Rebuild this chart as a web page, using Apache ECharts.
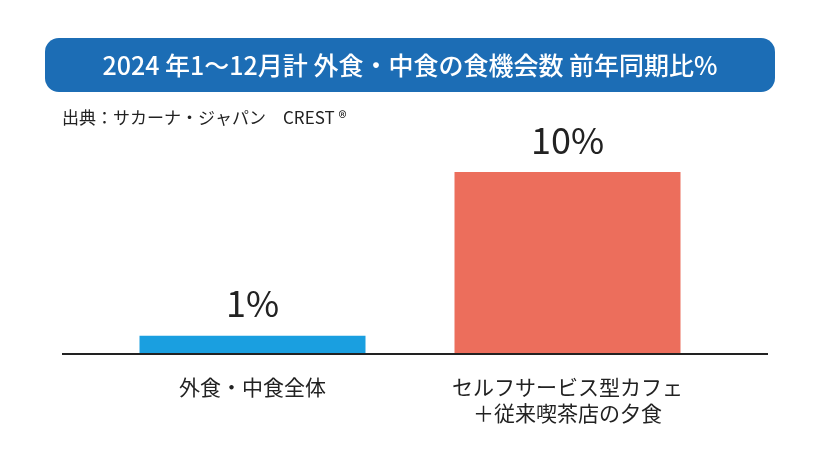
<!DOCTYPE html>
<html><head><meta charset="utf-8">
<script src="https://cdn.jsdelivr.net/npm/echarts@6/dist/echarts.min.js"></script>
<style>html,body{margin:0;padding:0;background:#fff}#c{width:820px;height:460px}</style>
</head><body><div id="c"></div>
<script>
const categories = ['外食・中食全体', 'セルフサービス型カフェ\n＋従来喫茶店の夕食'];
const values = [1, 10];
const valueLabels = ['1%', '10%'];
const colors = ['#1a9fe0', '#ec6e5c'];
const titleText = '2024 年1～12月計 外食・中食の食機会数 前年同期比%';
const sourceText = '出典：サカーナ・ジャパン　CREST ®';
const ff = '"Noto Sans CJK JP", "Noto Sans", sans-serif';
const chart = echarts.init(document.getElementById('c'));
chart.setOption({
  animation: false,
  graphic: [
    {type: 'rect', shape: {x: 45, y: 38, width: 730, height: 54, r: 14}, style: {fill: '#1c6db5'}},
    {type: 'text', x: 410, y: 65, style: {text: titleText, fill: '#fff', font: '500 25px ' + ff, align: 'center', verticalAlign: 'middle'}},
    {type: 'text', x: 62, y: 118, style: {text: sourceText, fill: '#222', font: '17px ' + ff, verticalAlign: 'middle'}},
    {type: 'line', shape: {x1: 62, y1: 354, x2: 768, y2: 354}, style: {stroke: '#222', lineWidth: 2}, z: 10}
  ],
  grid: {left: 95, right: 95, top: 172, bottom: 106},
  xAxis: {type: 'category', data: categories,
    axisLine: {show: false}, axisTick: {show: false},
    axisLabel: {color: '#222', fontSize: 21, fontFamily: ff, margin: 20, lineHeight: 26}},
  yAxis: {type: 'value', min: 0, max: 10, show: false, splitLine: {show: false}},
  series: [{type: 'bar', barWidth: 226,
    data: values.map((v, i) => ({value: v, itemStyle: {color: colors[i]},
      label: {show: true, position: 'top', distance: 14, formatter: valueLabels[i],
        fontSize: 36, color: '#222', fontFamily: ff}}))}]
});
</script></body></html>
